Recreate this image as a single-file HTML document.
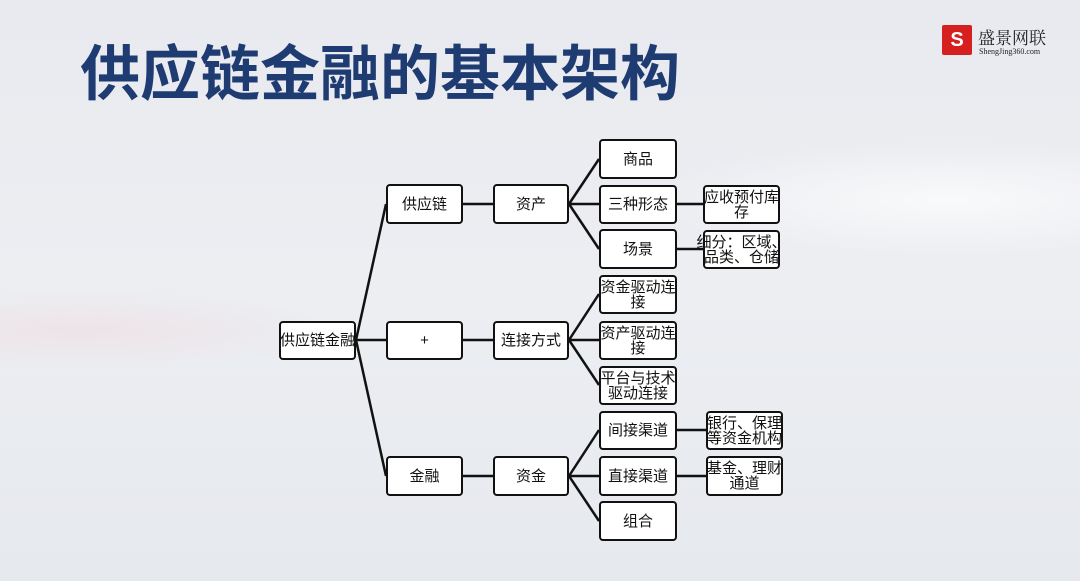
<!DOCTYPE html>
<html><head><meta charset="utf-8"><style>
body{margin:0;width:1080px;height:581px;overflow:hidden;position:relative;font-family:"Liberation Sans","Noto Sans CJK SC",sans-serif;
background:radial-gradient(ellipse 300px 60px at 950px 200px,rgba(255,255,255,.7),transparent),radial-gradient(ellipse 250px 40px at 80px 330px,rgba(240,220,225,.6),transparent),linear-gradient(180deg,#e8eaef 0%,#eceef2 50%,#e6e9ee 100%);}
.t{position:absolute;left:80px;top:38px;font-size:60px;font-weight:bold;color:#1e3c72;letter-spacing:0px;white-space:nowrap;line-height:74px}
.b{position:absolute;box-sizing:border-box;border:2.5px solid #111;border-radius:4px;background:#fff;display:flex;align-items:center;justify-content:center;text-align:center;font-size:15px;line-height:15px;color:#111;overflow:visible;white-space:nowrap}
svg{position:absolute;left:0;top:0}
</style></head><body>
<div class="t">供应链金融的基本架构</div>
<div style="position:absolute;left:942px;top:25px;width:30px;height:30px;background:#d62020;border-radius:2px"></div>
<div style="position:absolute;left:947px;top:30px;width:20px;height:20px;color:#fff;font-size:20px;font-weight:bold;line-height:20px;text-align:center">S</div>
<div style="position:absolute;left:978px;top:24px;font-size:17px;font-family:'Noto Serif CJK SC',serif;color:#222">盛景网联</div>
<div style="position:absolute;left:979px;top:47px;font-size:8px;font-family:'Liberation Serif',serif;color:#222">ShengJing360.com</div>
<svg width="1080" height="581"><g stroke="#111" stroke-width="2.5" fill="none">
<line x1="356" y1="340" x2="386" y2="204"/><line x1="356" y1="340" x2="386" y2="340"/><line x1="356" y1="340" x2="386" y2="476"/>
<line x1="463" y1="204" x2="493" y2="204"/><line x1="463" y1="340" x2="493" y2="340"/><line x1="463" y1="476" x2="493" y2="476"/>
<line x1="569" y1="204" x2="599" y2="159"/><line x1="569" y1="204" x2="599" y2="204"/><line x1="569" y1="204" x2="599" y2="249"/>
<line x1="569" y1="340" x2="599" y2="294"/><line x1="569" y1="340" x2="599" y2="340"/><line x1="569" y1="340" x2="599" y2="385"/>
<line x1="569" y1="476" x2="599" y2="430"/><line x1="569" y1="476" x2="599" y2="476"/><line x1="569" y1="476" x2="599" y2="521"/>
<line x1="677" y1="204" x2="703" y2="204"/><line x1="677" y1="249" x2="703" y2="249"/><line x1="677" y1="430" x2="706" y2="430"/><line x1="677" y1="476" x2="706" y2="476"/>
</g></svg>
<div class="b" style="left:279px;top:321px;width:77px;height:39px">供应链金融</div>
<div class="b" style="left:386px;top:184px;width:77px;height:40px">供应链</div>
<div class="b" style="left:386px;top:321px;width:77px;height:39px">+</div>
<div class="b" style="left:386px;top:456px;width:77px;height:40px">金融</div>
<div class="b" style="left:493px;top:184px;width:76px;height:40px">资产</div>
<div class="b" style="left:493px;top:321px;width:76px;height:39px">连接方式</div>
<div class="b" style="left:493px;top:456px;width:76px;height:40px">资金</div>
<div class="b" style="left:599px;top:139px;width:78px;height:40px">商品</div>
<div class="b" style="left:599px;top:185px;width:78px;height:39px">三种形态</div>
<div class="b" style="left:599px;top:229px;width:78px;height:40px">场景</div>
<div class="b" style="left:599px;top:275px;width:78px;height:39px">资金驱动连<br>接</div>
<div class="b" style="left:599px;top:321px;width:78px;height:39px">资产驱动连<br>接</div>
<div class="b" style="left:599px;top:366px;width:78px;height:39px">平台与技术<br>驱动连接</div>
<div class="b" style="left:599px;top:411px;width:78px;height:39px">间接渠道</div>
<div class="b" style="left:599px;top:456px;width:78px;height:40px">直接渠道</div>
<div class="b" style="left:599px;top:501px;width:78px;height:40px">组合</div>
<div class="b" style="left:703px;top:185px;width:77px;height:39px">应收预付库<br>存</div>
<div class="b" style="left:703px;top:230px;width:77px;height:39px">细分：区域、<br>品类、仓储</div>
<div class="b" style="left:706px;top:411px;width:77px;height:39px">银行、保理<br>等资金机构</div>
<div class="b" style="left:706px;top:456px;width:77px;height:40px">基金、理财<br>通道</div>
</body></html>
